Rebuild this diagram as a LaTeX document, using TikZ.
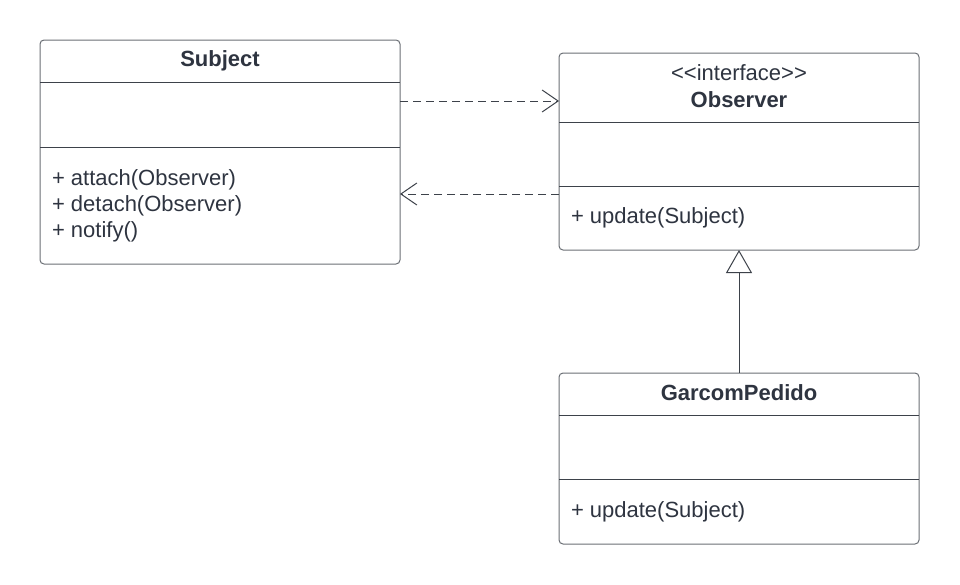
\documentclass[tikz,border=0pt]{standalone}
\usepackage{fontspec}
\setmainfont{Liberation Sans}
\usetikzlibrary{arrows.meta}
\definecolor{boxline}{HTML}{6B6F75}
\definecolor{divline}{HTML}{3D424A}
\definecolor{txt}{HTML}{2E3440}
\tikzset{
  umlbox/.style={draw=boxline, line width=1pt, rounded corners=4pt, fill=white,
    inner sep=0pt, outer sep=0pt, minimum width=360pt},
  divider/.style={draw=divline, line width=1pt},
  lbl/.style={inner sep=0pt, outer sep=0pt, text=txt, font=\fontsize{22}{26}\selectfont, anchor=base west},
  ttl/.style={inner sep=0pt, outer sep=0pt, text=txt, font=\fontsize{22}{26}\selectfont\bfseries, anchor=base},
  stereo/.style={inner sep=0pt, outer sep=0pt, text=txt, font=\fontsize{22}{26}\selectfont, anchor=base},
  dep/.style={draw=divline, line width=1pt, dash pattern=on 8pt off 5pt,
    -{Straight Barb[length=16pt, width=22pt, line width=1pt]}},
  gen/.style={draw=divline, line width=1pt,
    -{Triangle[open, length=23pt, width=26pt, line width=1pt, fill=white]}}
}
\begin{document}
\begin{tikzpicture}[x=1pt, y=-1pt]
\useasboundingbox (0,0) rectangle (960,584);
% boxes
\node[umlbox, minimum height=224pt] (subj) at (220,152) {};
\node[umlbox, minimum height=197pt] (obs) at (739,151.5) {};
\node[umlbox, minimum height=171pt] (garcom) at (739,458.5) {};
% dividers
\draw[divider] (40,82) -- (400,82);
\draw[divider] (40,147) -- (400,147);
\draw[divider] (559,122) -- (919,122);
\draw[divider] (559,186) -- (919,186);
\draw[divider] (559,415) -- (919,415);
\draw[divider] (559,479) -- (919,479);
% texts
\node[ttl] (subjt) at (220,66) {Subject};
\node[lbl] (s1) at (52,185) {+ attach(Observer)};
\node[lbl] (s2) at (52,211) {+ detach(Observer)};
\node[lbl] (s3) at (52,237) {+ notify()};
\node[stereo] (obss) at (739,80) {<{}<interface>{}>};
\node[ttl] (obst) at (739,107) {Observer};
\node[lbl] (o1) at (571,223) {+ update(Subject)};
\node[ttl] (gt) at (739,400) {GarcomPedido};
\node[lbl] (g1) at (571,517) {+ update(Subject)};
% connectors
\coordinate (ya) at (0,101);
\coordinate (yb) at (0,194);
\draw[dep] (subj.east |- ya) -- (obs.west |- ya);
\draw[dep] (obs.west |- yb) -- (subj.east |- yb);
\draw[gen] (garcom.north) -- (obs.south);
\end{tikzpicture}
\end{document}
